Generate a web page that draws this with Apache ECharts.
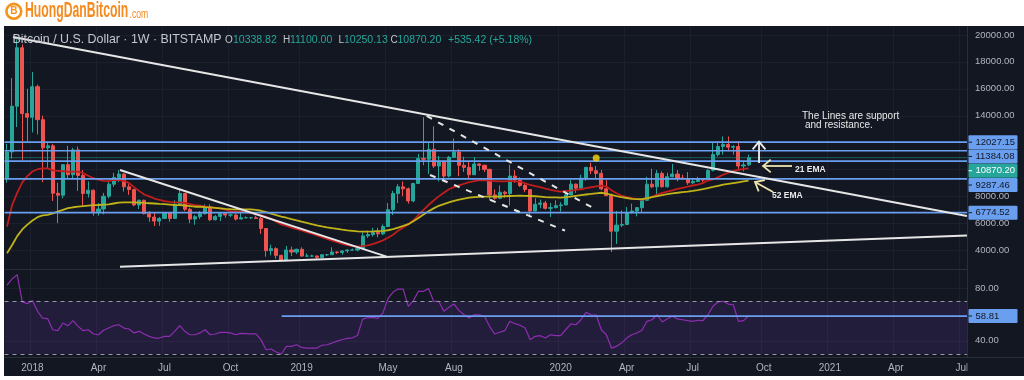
<!DOCTYPE html>
<html><head><meta charset="utf-8">
<script src="https://cdn.jsdelivr.net/npm/echarts@6/dist/echarts.min.js"></script>
<style>html,body{margin:0;padding:0;background:#fff;}#c{width:1024px;height:380px;}</style>
</head><body><div id="c"></div>
<script>
// ---------- DATA ----------
const startWeekUTC = Date.UTC(2017, 10, 27);   // first weekly bar (Mon 27 Nov 2017)
const weekCount = 190;                         // bars shown on the time axis (incl. empty future)
// weekly bars: [open, high, low, close]
const ohlc2017 = [
 [9360,11900,9000,11300],[11300,16800,10800,14700],[14700,19666,13150,19050],[19050,19300,10700,14150],[14150,16000,12100,13880]];
const ohlc2018 = [
 [13880,17250,12750,16150],[16150,16300,12600,13700],[13700,14000,9050,11600],[11600,12050,10050,11750],[11750,11900,7650,8220],
 [8220,9000,6000,8080],[8080,10350,7850,10350],[10350,11750,9300,9600],[9600,11600,9350,11450],[11450,11700,8400,9550],
 [9550,9950,7300,8200],[8200,9100,7900,8450],[8450,8500,6550,6850],[6850,7500,6550,7050],[7050,8250,6650,8000],
 [8000,9050,7850,8900],[8900,9750,8700,9400],[9400,9950,9050,9650],[9650,9700,8350,8700],[8700,8900,8100,8500],
 [8500,8550,7250,7350],[7350,7750,7050,7700],[7700,7750,6650,6700],[6700,6900,6100,6450],[6450,6800,5780,6150],
 [6150,6450,5800,6350],[6350,6800,6300,6750],[6750,6800,6100,6350],[6350,7700,6300,7400],[7400,8500,7350,8200],
 [8200,8250,6900,7030],[7030,7150,6000,6300],[6300,6600,5880,6480],[6480,6900,6300,6700],[6700,7400,6650,7200],
 [7200,7400,6150,6250],[6250,6600,6200,6500],[6500,6800,6150,6700],[6700,6800,6400,6600],[6600,6700,6450,6600],
 [6600,6700,6200,6300],[6300,6900,6300,6400],[6400,6500,6350,6400],[6400,6450,6300,6400],[6400,6550,6300,6350],
 [6350,6450,5200,5600],[5600,5600,3500,3950],[3950,4400,3600,4100],[4100,4200,3350,3600],[3600,3650,3200,3200],
 [3200,4300,3200,4000],[4000,4250,3550,3850],[3850,4100,3700,4050]];
const ohlc2019 = [
 [4050,4200,3500,3550],[3550,3750,3500,3550],[3550,3650,3480,3550],[3550,3600,3350,3450],[3450,3700,3350,3650],
 [3650,3700,3550,3650],[3650,4200,3650,3850],[3850,3900,3700,3820],[3820,3950,3650,3930],[3930,4050,3800,4000],
 [4000,4100,3950,4000],[4000,4150,3900,4100],[4100,5300,4100,5050],[5050,5450,4900,5150],[5150,5650,5000,5300],
 [5300,5650,4950,5200],[5200,5900,5100,5750],[5750,7500,5700,7000],[7000,8400,6600,8200],[8200,8900,7500,8700],
 [8700,9100,8000,8550],[8550,8650,7450,7650],[7650,9000,7550,8950],[8950,11150,8950,10800],[10800,13880,10300,10750],
 [10750,12000,9650,11500],[11500,13200,10100,10250],[10250,11000,9100,10600],[10600,10650,9200,9500],[9500,11000,9400,10900],
 [10900,12300,10900,11300],[11300,11500,9500,10300],[10300,10950,9800,10150],[10150,10600,9300,9600],[9600,10900,9600,10400],
 [10400,10450,9900,10300],[10300,10350,9800,10000],[10000,10050,7700,8100],[8100,8500,7750,7850],[7850,8800,7800,8300],
 [8300,8400,7900,8200],[8200,10350,7300,9500],[9500,9950,9000,9200],[9200,9400,8700,8800],[8800,9000,8300,8500],
 [8500,8500,6500,6900],[6900,7850,6900,7400],[7400,7750,7100,7500],[7500,7650,7000,7100],[7100,7500,6450,7150],
 [7150,7700,7100,7300],[7300,7550,6850,7350]];
const ohlc2020 = [
 [7350,8450,7350,8100],[8100,9200,8050,8900],[8900,8950,8250,8600],[8600,9600,8550,9350],[9350,10150,9150,10150],
 [10150,10500,9650,9900],[9900,10250,9300,9700],[9700,9950,8450,8550],[8550,9200,8000,8050],[8050,8200,3850,5400],
 [5400,6900,4450,5850],[5850,6950,5700,5900],[5900,7200,5850,6800],[6800,7450,6700,6900],[6900,7200,6500,7150],
 [7150,7750,6800,7700],[7700,9450,7650,8900],[8900,10050,8600,8700],[8700,9950,8100,9700],[9700,9850,8650,8700],
 [8700,9750,8650,9450],[9450,10400,9400,9650],[9650,9950,9100,9350],[9350,9600,9250,9300],[9300,9800,8850,9000],
 [9000,9300,8900,9100],[9100,9450,9050,9250],[9250,9350,9050,9200],[9200,10000,9150,9930],[9930,12000,9850,11100],
 [11100,12100,10950,11700],[11700,12450,11100,11850],[11850,12450,11350,11650],[11650,11800,11100,11700],[11700,12100,9900,10250],
 [10250,10600,9850,10330],[10338.82,11100,10250.13,10870.20]];
const ema21 = [
 5740,7350,8250,9030,9500,9840,10010,10080,10070,9920, 9890,9860,9830,9830,9830,9720,9530,9340,9240,9150,
 9120,9210,9210,9140,8990,8680,8400,8130,7990,7830, 7730,7630,7580,7550,7550,7500,7420,7340,7300,7250,
 7180,7140,7100,7010,6900,6850,6850,6810,6770,6680, 6590,6470,6320,6110,5910,5790,5670,5560,5460,5330,
 5210,5090,4960,4830,4700,4580,4460,4360,4290,4250, 4290,4350,4440,4570,4720,4910,5130,5440,5680,5900,
 6210,6600,6990,7350,7680,7990,8260,8520,8680,8810, 8930,9050,9130,9200,9190,9160,9130,9100,9110,9140,
 9110,9090,8960,8850,8760,8670,8570,8470,8400,8340, 8380,8420,8470,8520,8600,8670,8740,8790,8720,8440,
 8220,8040,7940,7860,7780,7740,7850,7960,8120,8250, 8350,8440,8540,8630,8720,8800,8870,8980,9170,9250,
 9420,9600,9760,9880,9970,10040,10080];
const ema52 = [
 3760,4370,5030,5530,5890,6200,6440,6570,6620,6720, 6860,6990,7110,7180,7220,7260,7300,7340,7350,7380,
 7400,7460,7520,7540,7550,7550,7530,7500,7480,7460, 7430,7410,7380,7350,7340,7310,7270,7220,7220,7190,
 7170,7140,7100,7060,7040,7030,7020,7020,7020,6980, 6920,6820,6710,6590,6490,6400,6300,6210,6110,6020,
 5920,5830,5750,5680,5620,5570,5510,5460,5420,5380, 5370,5370,5380,5400,5420,5470,5550,5670,5790,5920,
 6140,6390,6640,6890,7100,7290,7420,7540,7650,7750, 7830,7890,7940,7960,7970,7970,7970,7970,8000,8020,
 8030,8040,8030,8020,8000,7970,7940,7920,7910,7900, 7930,7970,8030,8090,8130,8170,8220,8260,8200,8110,
 8010,7930,7870,7800,7790,7790,7850,7930,8010,8090, 8150,8220,8260,8310,8350,8400,8460,8530,8610,8690,
 8780,8860,8920,8980,9040,9100,9160];
const rsi = [
 82.2,87,90.2,69.5,68.2,70.7,62.4,57.3,56.8,48.4, 47.7,53.5,51.5,55.3,51,47.7,48.4,45.2,44.6,48,
 49.7,51.5,52.2,49.7,49,46,47.2,45.2,43.4,42.1, 42.1,43.4,43.4,47.2,51.5,47.2,44.6,44.6,46,48.4,
 44.6,45.2,46.4,46.4,46,44.6,45.7,45.5,45.2,45.2, 40.9,33.2,33.8,31.5,30,35.8,35.8,37,35,34.5,
 34.5,34.5,36.6,37,38.3,39.8,41,41.8,42.3,44, 56.5,57.5,57.8,57,61,72,77,79.3,79.3,66.2,
 70.5,77.6,77.6,79.6,70,70,62.4,65.4,67.9,62.9, 59.8,57.3,59.8,59.8,58.6,51,45.2,46.5,47.7,54.8,
 53,51.8,49.7,40.8,43.4,43.9,42.1,44.6,43.9,43.9, 48.4,52.8,52.2,56,61.6,59.8,59.6,48.4,44.6,34.5,
 35.8,38.3,42.1,44.6,45.9,48,54.8,56,59.8,54.3, 56.8,58.6,56.6,56,55.3,54.8,55.6,55.3,59.8,66.2,
 69.5,70,67.9,67.4,54.8,55.3,58.81];
const priceTicks = [20000,18000,16000,14000,12000,10000,8000,6000,4000];
const rsiTicks = [80,40];
const rsiBand = [30,70];
const xTickIndex = [5,18,31,44,58,75,88,109,122,135,149,162,175,188];
const xTickText  = ['2018','Apr','Jul','Oct','2019','May','Aug','2020','Apr','Jul','Oct','2021','Apr','Jul'];
const levels = [12027.15,11384.08,10620,9287.46,6774.52];
const levelHasLabel = [true,true,false,true,true];
const lastPrice = 10870.20;
const rsiLevel = 58.81, rsiLevelStart = 54.08;
// drawings: [[week, price],[week, price]]
const trendLines = [[[1.17,19851],[189,6530]],[[22.24,2760],[189,5075]],[[22.24,9955],[74.75,3505]]];
const dashedLines = [[[82.63,13972],[116.1,6977]],[[83.28,9581],[109.86,5437]]];
const markerDot = [116,10850];
const headerTitle = 'Bitcoin / U.S. Dollar · 1W · BITSTAMP';
const headerKeys = ['O','H','L','C'];
const headerVals = ['10338.82','11100.00','10250.13','10870.20'];
const headerChange = '+535.42 (+5.18%)';
const arrowWhite = [[148.06,10474],[148.06,12060]];
const arrowEma21 = [[154.55,10251],[148.85,10251]];
const arrowEma52 = [[150.82,8316],[147.27,9060]];
const notes = [
 {t:'The Lines are support', at:[156.52,13972], size:10, bold:false},
 {t:'and resistance.', at:[157.1,13280], size:10, bold:false},
 {t:'21 EMA', at:[155.14,9953], size:8.5, bold:true},
 {t:'52 EMA', at:[150.62,8019], size:8.5, bold:true}];

// ---------- CHART ----------
const UP='#26a69a', DN='#ef5350', BLUE='#6a9ff0', BG='#131722', GRIDC='#1c202c', TXT='#b2b5be';
const FONT="'Liberation Sans', Arial, sans-serif";
const weeks=[]; for(let i=0;i<weekCount;i++){weeks.push(new Date(startWeekUTC+i*7*864e5).toISOString().slice(0,10));}
const bars=[...ohlc2017,...ohlc2018,...ohlc2019,...ohlc2020].map(r=>[r[0],r[3],r[2],r[1]]);
const tickSet=new Set(xTickIndex);
const tickFn=(idx)=>tickSet.has(idx);
const GL=4.5, GW=965;
const chart=echarts.init(document.getElementById('c'),null,{renderer:'canvas'});
const seg=(d,style,z)=>({type:'line',xAxisIndex:2,yAxisIndex:0,data:d,symbol:'none',silent:true,lineStyle:style,z:z,emphasis:{disabled:true},animation:false});
chart.setOption({
 animation:false, backgroundColor:'#ffffff',
 grid:[{left:GL,top:27,width:GW,height:242},{left:GL,top:270,width:GW,height:87}],
 xAxis:[
  {type:'category',gridIndex:0,data:weeks,boundaryGap:true,axisLine:{show:false},axisTick:{show:false},axisLabel:{show:false},
   splitLine:{show:true,interval:tickFn,lineStyle:{color:GRIDC,width:1}}},
  {type:'category',gridIndex:1,data:weeks,boundaryGap:true,axisLine:{show:false},axisTick:{show:false},
   axisLabel:{show:true,interval:tickFn,formatter:(v,idx)=>xTickText[xTickIndex.indexOf(idx)]||'',color:TXT,fontSize:10,fontFamily:FONT,margin:6,hideOverlap:false},
   splitLine:{show:true,interval:tickFn,lineStyle:{color:GRIDC,width:1}}},
  {type:'value',gridIndex:0,min:-0.5,max:weekCount-0.5,show:false},
  {type:'value',gridIndex:1,min:-0.5,max:weekCount-0.5,show:false}],
 yAxis:[
  {type:'value',gridIndex:0,min:2586,max:20595,show:false,splitLine:{show:false}},
  {type:'value',gridIndex:1,min:27.72,max:93.76,show:false,splitLine:{show:false}}],
 series:[
  {type:'candlestick',xAxisIndex:0,yAxisIndex:0,data:bars,barWidth:3.6,silent:true,z:2,
   itemStyle:{color:UP,color0:DN,borderColor:UP,borderColor0:DN,borderWidth:1}},
  {type:'line',xAxisIndex:0,yAxisIndex:0,data:ema21,symbol:'none',silent:true,z:3,lineStyle:{color:'#c21d1d',width:1.8}},
  {type:'line',xAxisIndex:0,yAxisIndex:0,data:ema52,symbol:'none',silent:true,z:3,lineStyle:{color:'#bfb31a',width:1.8}},
  ...levels.map(v=>seg([[-0.5,v],[weekCount-0.5,v]],{color:BLUE,width:1.7},4)),
  seg([[-0.5,lastPrice],[weekCount-0.5,lastPrice]],{color:UP,width:1,type:'dotted'},4),
  ...trendLines.map(d=>seg(d,{color:'#e6e6e6',width:2},5)),
  ...dashedLines.map(d=>seg(d,{color:'#e6e6e6',width:2,type:[6,7]},5)),
  {type:'scatter',xAxisIndex:2,yAxisIndex:0,data:[markerDot],symbolSize:7,silent:true,itemStyle:{color:'#ffd60a'},z:6},
  {type:'line',xAxisIndex:1,yAxisIndex:1,data:rsi,symbol:'none',silent:true,z:3,lineStyle:{color:'#8e2db0',width:1.2},
   markArea:{silent:true,itemStyle:{color:'rgba(126,60,200,0.16)'},data:[[{yAxis:rsiBand[0]},{yAxis:rsiBand[1]}]]},
   markLine:{silent:true,symbol:'none',label:{show:false},lineStyle:{color:'#9598a1',type:[4,4],width:1},data:[{yAxis:rsiBand[1]},{yAxis:rsiBand[0]}]}},
  {type:'line',xAxisIndex:3,yAxisIndex:1,data:[[rsiLevelStart,rsiLevel],[weekCount-0.5,rsiLevel]],symbol:'none',silent:true,z:4,lineStyle:{color:BLUE,width:1.7}}
 ]
});

// ---------- overlays positioned through the chart's scales ----------
const P=(p)=>chart.convertToPixel({xAxisIndex:2,yAxisIndex:0},p);
const PY=(v)=>chart.convertToPixel({yAxisIndex:0},v);
const RY=(v)=>chart.convertToPixel({yAxisIndex:1},v);
const AXF='9.5px '+FONT;
const G=[];
G.push({type:'rect',z:-10,shape:{x:4,y:26,width:1020,height:350},style:{fill:BG}});
priceTicks.forEach(v=>{const y=Math.round(PY(v))+0.5;G.push({type:'line',z:-5,shape:{x1:GL,y1:y,x2:967,y2:y},style:{stroke:GRIDC,lineWidth:1}});});
rsiTicks.forEach(v=>{const y=Math.round(RY(v))+0.5;G.push({type:'line',z:-5,shape:{x1:GL,y1:y,x2:967,y2:y},style:{stroke:GRIDC,lineWidth:1}});});
// right price scale panel
G.push({type:'rect',z:50,shape:{x:967.5,y:26,width:57,height:350},style:{fill:BG}});
G.push({type:'line',z:51,shape:{x1:967.5,y1:26,x2:967.5,y2:357.5},style:{stroke:'#2a2e39',lineWidth:1}});
G.push({type:'line',z:51,shape:{x1:4,y1:269.5,x2:967.5,y2:269.5},style:{stroke:'#2a2e39',lineWidth:1}});
G.push({type:'line',z:51,shape:{x1:4,y1:357.5,x2:1024,y2:357.5},style:{stroke:'#2a2e39',lineWidth:1}});
priceTicks.forEach(v=>G.push({type:'text',z:52,style:{text:v.toFixed(2),x:975,y:PY(v),verticalAlign:'middle',fill:TXT,font:AXF}}));
rsiTicks.forEach(v=>G.push({type:'text',z:52,style:{text:v.toFixed(2),x:975,y:RY(v),verticalAlign:'middle',fill:TXT,font:AXF}}));
const boxes=[];
levels.forEach((v,k)=>{if(levelHasLabel[k])boxes.push({y:PY(v),t:v.toFixed(2),f:BLUE,c:'#131722'});});
boxes.push({y:PY(lastPrice),t:lastPrice.toFixed(2),f:UP,c:'#ffffff'});
boxes.sort((a,b)=>a.y-b.y);
for(let k=1;k<boxes.length;k++){if(boxes[k].y<boxes[k-1].y+14.3)boxes[k].y=boxes[k-1].y+14.3;}
boxes.push({y:RY(rsiLevel),t:rsiLevel.toFixed(2),f:BLUE,c:'#131722'});
boxes.forEach(b=>{
 G.push({type:'rect',z:53,shape:{x:968.5,y:b.y-7,width:49,height:14,r:1},style:{fill:b.f}});
 G.push({type:'line',z:54,shape:{x1:968.5,y1:b.y,x2:972,y2:b.y},style:{stroke:b.c,lineWidth:1}});
 G.push({type:'text',z:54,style:{text:b.t,x:975.5,y:b.y,verticalAlign:'middle',fill:b.c,font:AXF}});
});
// header legend
G.push({type:'text',z:60,style:{text:headerTitle,x:12.5,y:40,verticalAlign:'middle',fill:'#c4c6cd',font:'12.4px '+FONT}});
const hx=[[225,233],[283,290],[338.5,344],[390.5,397.5]];
headerKeys.forEach((k,i)=>{
 G.push({type:'text',z:60,style:{text:k,x:hx[i][0],y:40,verticalAlign:'middle',fill:'#c4c6cd',font:'10px '+FONT}});
 G.push({type:'text',z:60,style:{text:headerVals[i],x:hx[i][1],y:40,verticalAlign:'middle',fill:UP,font:'10.5px '+FONT}});
});
G.push({type:'text',z:60,style:{text:headerChange,x:448,y:40,verticalAlign:'middle',fill:UP,font:'10.5px '+FONT}});
// logo
G.push({type:'circle',z:60,shape:{cx:13.8,cy:11.3,r:7.4},style:{fill:'none',stroke:'#f7931a',lineWidth:2.6}});
G.push({type:'text',z:60,style:{text:'B',x:13.8,y:11.6,align:'center',verticalAlign:'middle',fill:'#f7931a',font:'bold 10px '+FONT}});
G.push({type:'text',z:60,x:25,y:10.7,scaleX:0.556,style:{text:'HuongDanBitcoin',x:0,y:0,verticalAlign:'middle',fill:'#f58a1f',font:'bold 22px '+FONT}});
G.push({type:'text',z:60,x:129.5,y:14.8,scaleX:0.72,style:{text:'.com',x:0,y:0,verticalAlign:'middle',fill:'#f58a1f',font:'12px '+FONT}});
// arrows & notes
function arrow(a0,b0,color,w){
 const a=P(a0),b=P(b0);const dx=b[0]-a[0],dy=b[1]-a[1],L=Math.hypot(dx,dy),ux=dx/L,uy=dy/L;
 const hl=10,an=Math.PI*0.22,c=Math.cos(an),s=Math.sin(an);
 const w1=[b[0]-hl*(ux*c-uy*s),b[1]-hl*(uy*c+ux*s)], w2=[b[0]-hl*(ux*c+uy*s),b[1]-hl*(uy*c-ux*s)];
 G.push({type:'polyline',z:60,shape:{points:[a,b]},style:{stroke:color,lineWidth:w,fill:null}});
 G.push({type:'polyline',z:60,shape:{points:[w1,b,w2]},style:{stroke:color,lineWidth:w,fill:null}});
}
arrow(arrowWhite[0],arrowWhite[1],'#f0f0f0',1.8);
arrow(arrowEma21[0],arrowEma21[1],'#efe4ae',1.8);
arrow(arrowEma52[0],arrowEma52[1],'#efe4ae',1.8);
notes.forEach(n=>{const p=P(n.at);G.push({type:'text',z:60,style:{text:n.t,x:p[0],y:p[1],verticalAlign:'middle',fill:'#e8e8e8',font:(n.bold?'bold ':'')+n.size+'px '+FONT}});});
chart.setOption({graphic:{elements:G}});
</script></body></html>
